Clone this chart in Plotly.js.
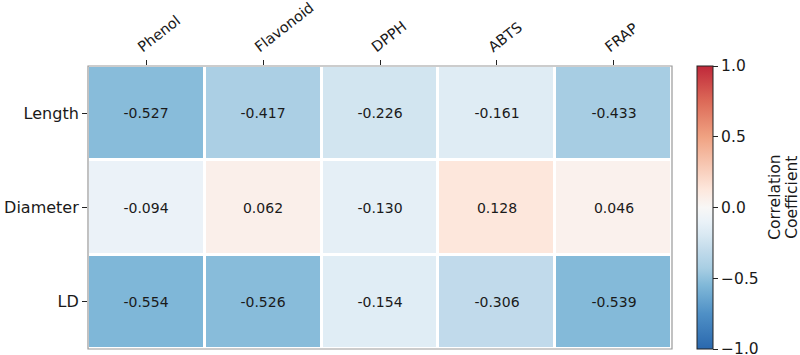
<!DOCTYPE html>
<html>
<head>
<meta charset="utf-8">
<script src="https://cdn.plot.ly/plotly-3.0.1.min.js"></script>
<style>
  html, body { margin: 0; padding: 0; background: #ffffff; }
  #chart { width: 800px; height: 355px; }
</style>
</head>
<body>
<div id="chart"></div>
<script>
// Traits (rows) and antioxidant assays (columns)
const traits = ['Length', 'Diameter', 'LD'];
const assays = ['Phenol', 'Flavonoid', 'DPPH', 'ABTS', 'FRAP'];

// Pearson correlation coefficients, one array per trait
const lengthR   = [-0.527, -0.417, -0.226, -0.161, -0.433];
const diameterR = [-0.094,  0.062, -0.130,  0.128,  0.046];
const ldR       = [-0.554, -0.526, -0.154, -0.306, -0.539];

// Colour bar ticks
const colorTickVals = [-1, -0.5, 0, 0.5, 1];
const colorTickText = ['\u22121.0', '\u22120.5', '0.0', '0.5', '1.0'];

// Colour bar title lines
const cbTitleLines = ['Correlation', 'Coefficient'];

// Diverging red-blue scale over [-1, 1]
const lo = -1, hi = 1;
const stops = [
  [-1.00, '#2a68ae'],
  [-0.75, '#4f90c6'],
  [-0.55, '#80b8d8'],
  [-0.43, '#a8cee3'],
  [-0.30, '#c2dbeb'],
  [-0.20, '#d8e8f2'],
  [-0.10, '#eaf2f8'],
  [ 0.00, '#f8f7f6'],
  [ 0.13, '#fde7dc'],
  [ 0.50, '#f0a282'],
  [ 0.75, '#dc6a58'],
  [ 1.00, '#c0283a']
];
const colorscale = stops.map(s => [(s[0] - lo) / (hi - lo), s[1]]);

const z = [lengthR, diameterR, ldR];
const ink = '#1a1a1a';

const trace = {
  type: 'heatmap',
  x: assays,
  y: traits,
  z: z,
  zmin: lo,
  zmax: hi,
  colorscale: colorscale,
  xgap: 3,
  ygap: 3,
  texttemplate: '%{z:.3f}',
  textfont: { family: 'DejaVu Sans', size: 14, color: ink },
  colorbar: {
    thickness: 16,
    lenmode: 'pixels',
    len: 283,
    x: 1.043,
    xanchor: 'left',
    xpad: 0,
    y: 0.5,
    yanchor: 'middle',
    ypad: 0,
    outlinewidth: 1,
    outlinecolor: '#222',
    tickmode: 'array',
    tickvals: colorTickVals,
    ticktext: colorTickText,
    ticklabeloverflow: 'allow',
    ticks: 'outside',
    ticklen: 5,
    tickcolor: '#222',
    tickfont: { family: 'DejaVu Sans', size: 15.5, color: ink },
    title: { text: '' }
  }
};

// Two vertical lines of colour bar title, side by side
const cbTitleX = [1.176, 1.205];
const titleAnnotations = cbTitleLines.map((t, i) => ({
  xref: 'paper', yref: 'paper',
  x: cbTitleX[i], y: 0.537,
  xanchor: 'center', yanchor: 'middle',
  textangle: -90,
  showarrow: false,
  text: t,
  font: { family: 'DejaVu Sans', size: 15.5, color: ink }
}));

const layout = {
  width: 800,
  height: 355,
  margin: { l: 88, r: 128, t: 66, b: 6 },
  paper_bgcolor: '#ffffff',
  plot_bgcolor: '#ffffff',
  font: { family: 'DejaVu Sans', color: ink },
  xaxis: {
    side: 'top',
    type: 'category',
    tickangle: -38,
    ticklabelshift: -8,
    ticks: 'outside',
    ticklen: 5,
    tickcolor: '#222',
    tickfont: { family: 'DejaVu Sans', size: 14.5, color: ink },
    showgrid: false,
    zeroline: false,
    showline: false
  },
  yaxis: {
    type: 'category',
    autorange: 'reversed',
    ticks: 'outside',
    ticklen: 5,
    tickcolor: '#222',
    tickfont: { family: 'DejaVu Sans', size: 16, color: ink },
    showgrid: false,
    zeroline: false,
    showline: false
  },
  annotations: titleAnnotations,
  shapes: [{
    type: 'rect', xref: 'paper', yref: 'paper',
    x0: 0, x1: 1, y0: 0, y1: 1,
    line: { color: '#999999', width: 1.2 },
    fillcolor: 'rgba(0,0,0,0)'
  }]
};

Plotly.newPlot('chart', [trace], layout, { displayModeBar: false, staticPlot: true });
</script>
</body>
</html>
